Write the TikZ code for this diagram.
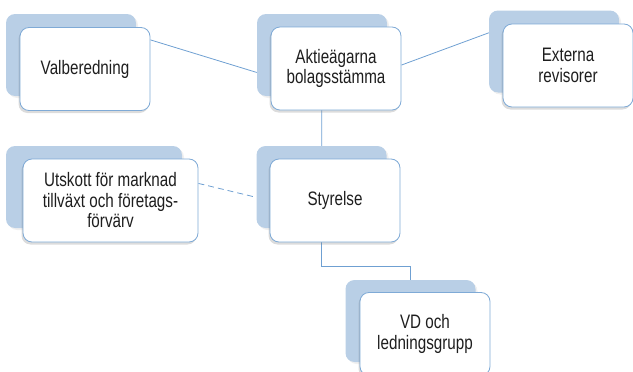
\documentclass[tikz,border=0pt]{standalone}
\usepackage{fontspec}
\setmainfont{Liberation Sans}[FakeStretch=0.78]
\usepackage{tikz}
\usetikzlibrary{shadows,backgrounds}
\definecolor{pale}{HTML}{B9CFE6}
\definecolor{rim}{HTML}{7FAAD6}
\definecolor{wire}{HTML}{6FA0D2}
\definecolor{ink}{HTML}{1E1E1E}
\tikzset{
  backbox/.style={rectangle, rounded corners=9pt, fill=pale, minimum width=130pt, minimum height=82pt,
                  drop shadow={shadow xshift=2pt, shadow yshift=-2pt, opacity=0.12}},
  unitbox/.style={rectangle, rounded corners=9pt, draw=rim, fill=white, line width=0.8pt,
                  minimum width=130pt, minimum height=83pt, align=center, inner sep=2pt, text=ink,
                  font=\fontsize{19.5}{20.5}\selectfont,
                  drop shadow={shadow xshift=-1.5pt, shadow yshift=-2.5pt, opacity=0.28}},
  link/.style={draw=wire, line width=0.8pt},
  dlink/.style={link, dash pattern=on 6pt off 4pt}
}
\begin{document}
\begin{tikzpicture}[x=1pt, y=-1pt]
  \useasboundingbox (0,0) rectangle (633,372);
  \node[backbox] (valb-b) at (71,55) {};
  \node[unitbox] (valb) at (85,69) {Valberedning};
  \node[backbox] (aktie-b) at (322,55) {};
  \node[unitbox] (aktie) at (336,68.5) {Aktieägarna\\bolagsstämma};
  \node[backbox] (extern-b) at (554,51.5) {};
  \node[unitbox] (extern) at (568,65.5) {Externa\\revisorer};
  \node[backbox, minimum width=176pt] (utskott-b) at (94,187) {};
  \node[unitbox, minimum width=175pt] (utskott) at (110.5,200.5) {Utskott för marknad\\tillväxt och företags-\\förvärv};
  \node[backbox] (styr-b) at (321.5,187) {};
  \node[unitbox] (styr) at (335,200.5) {Styrelse};
  \node[backbox] (vd-b) at (410.5,321) {};
  \node[unitbox] (vd) at (425,334) {VD och\\ledningsgrupp};
  \begin{scope}[on background layer]
    \draw[link] (valb.24) -- (aktie-b.195);
    \draw[link] (aktie.3) -- (extern-b.164);
    \draw[link] (aktie-b) -- (styr-b);
    \draw[dlink] (utskott.11) -- (styr-b.189);
    \draw[link] (styr-b) -- ++(0,79) -| (vd-b);
  \end{scope}
\end{tikzpicture}
\end{document}
